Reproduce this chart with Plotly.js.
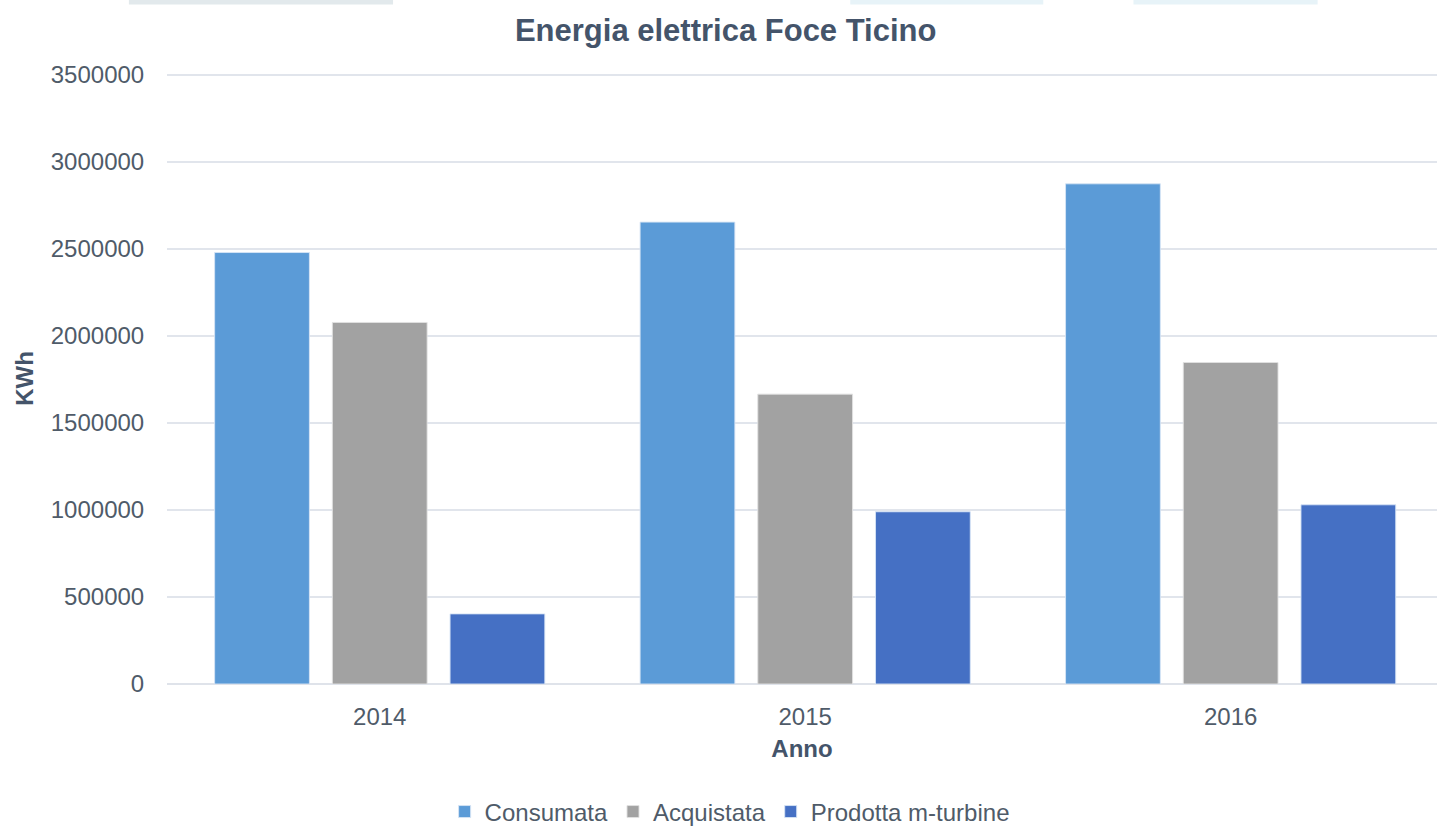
<!DOCTYPE html>
<html>
<head>
<meta charset="utf-8">
<script src="https://cdn.plot.ly/plotly-3.0.1.min.js"></script>
<style>
  html, body { margin: 0; padding: 0; background: #ffffff; }
  #chart { width: 1437px; height: 826px; }
</style>
</head>
<body>
<div id="chart"></div>
<script>
const years = ['2014', '2015', '2016'];
const consumata = [2480000, 2655000, 2875000];
const acquistata = [2078000, 1666000, 1848000];
const prodotta = [403000, 990000, 1030000];
const seriesNames = ['Consumata', 'Acquistata', 'Prodotta m-turbine'];
const yTicks = [0, 500000, 1000000, 1500000, 2000000, 2500000, 3000000, 3500000];

const FONT = '"Liberation Sans", Arial, Helvetica, sans-serif';
const barLine = { width: 1, color: 'rgba(215,228,245,0.9)' };

const traces = [
  { type: 'bar', name: seriesNames[0], x: years, y: consumata,
    marker: { color: '#5b9bd7', line: barLine } },
  { type: 'bar', name: seriesNames[1], x: years, y: acquistata,
    marker: { color: '#a2a2a2', line: { width: 1, color: 'rgba(225,225,225,0.9)' } } },
  { type: 'bar', name: seriesNames[2], x: years, y: prodotta,
    marker: { color: '#4570c4', line: barLine } }
];

const layout = {
  width: 1437, height: 826,
  paper_bgcolor: '#ffffff', plot_bgcolor: '#ffffff',
  font: { family: FONT, color: '#4f5b69', size: 24 },
  margin: { l: 167, r: 0, t: 73, b: 142, pad: 0, autoexpand: false },
  title: { text: 'Energia elettrica Foce Ticino',
           font: { family: FONT, size: 31, color: '#44546a', weight: 'bold' },
           x: 0.505, xanchor: 'center', y: 0.963, yanchor: 'middle' },
  barmode: 'group',
  bargap: 0.17,
  bargroupgap: 0.195,
  showlegend: true,
  legend: { orientation: 'h', x: 0.443, xanchor: 'center',
            yref: 'container', y: 0.017, yanchor: 'middle',
            font: { family: FONT, size: 24, color: '#4f5b69' }, itemwidth: 30,
            traceorder: 'normal', bgcolor: 'rgba(0,0,0,0)' },
  xaxis: {
    type: 'category',
    range: [-0.5, 2.485],
    automargin: false,
    showgrid: false, zeroline: false, showline: false,
    ticks: 'outside', ticklen: 11, tickcolor: 'rgba(0,0,0,0)',
    tickfont: { family: FONT, size: 24, color: '#4f5b69' },
    title: { text: 'Anno', font: { family: FONT, size: 24, color: '#44546a', weight: 'bold' }, standoff: 11 },
    fixedrange: true
  },
  yaxis: {
    range: [0, 3512000],
    automargin: false,
    tickvals: yTicks,
    ticktext: yTicks.map(v => String(v)),
    showgrid: true, gridcolor: '#e1e5ec', gridwidth: 1.6,
    zeroline: true, zerolinecolor: '#dfe3ea', zerolinewidth: 1.6,
    showline: false,
    ticks: 'outside', ticklen: 17, tickcolor: 'rgba(0,0,0,0)',
    tickfont: { family: FONT, size: 24, color: '#4f5b69' },
    title: { text: 'KWh', font: { family: FONT, size: 24, color: '#44546a', weight: 'bold' }, standoff: 10 },
    fixedrange: true
  },
  shapes: [
    { type: 'rect', xref: 'paper', yref: 'paper', x0: -0.03, x1: 0.178, y0: 1.112, y1: 1.125,
      fillcolor: '#e2e9ec', line: { width: 0 }, layer: 'below' },
    { type: 'rect', xref: 'paper', yref: 'paper', x0: 0.538, x1: 0.69, y0: 1.112, y1: 1.125,
      fillcolor: '#e7f3f8', line: { width: 0 }, layer: 'below' },
    { type: 'rect', xref: 'paper', yref: 'paper', x0: 0.761, x1: 0.906, y0: 1.112, y1: 1.125,
      fillcolor: '#e7f3f8', line: { width: 0 }, layer: 'below' }
  ]
};

Plotly.newPlot('chart', traces, layout, { displayModeBar: false, staticPlot: true });
</script>
</body>
</html>
